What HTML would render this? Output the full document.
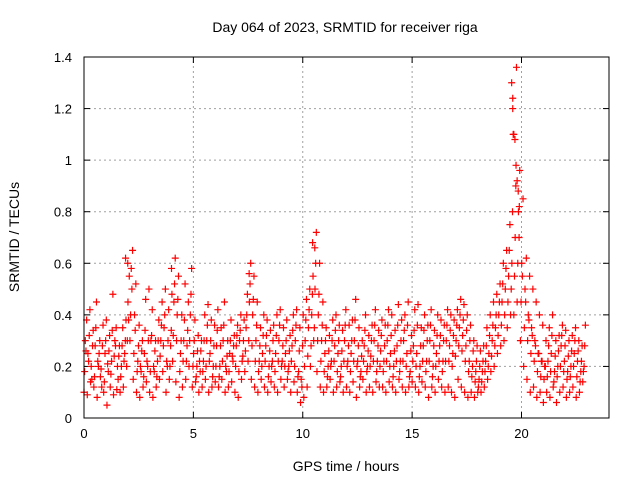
<!DOCTYPE html>
<html><head><meta charset="utf-8"><style>
body{margin:0;background:#fff}
svg{display:block;font-family:"Liberation Sans",sans-serif}
</style></head><body>
<svg id="chart" width="640" height="480">
<text x="345" y="32" font-size="14" text-anchor="middle">Day 064 of 2023, SRMTID for receiver riga</text>
<text x="19" y="237" font-size="14" text-anchor="middle" transform="rotate(-90 19 237)">SRMTID / TECUs</text>
<text x="346" y="471" font-size="14" text-anchor="middle">GPS time / hours</text>
<g id="grid"></g>
<g id="ticks"></g>
<g id="pts"></g>
<rect x="84" y="57" width="525" height="361" fill="none" stroke="#000" stroke-width="1"/>
</svg>
<script>
const xTicks=[0,5,10,15,20];
const yTicks=[0,0.2,0.4,0.6,0.8,1,1.2,1.4];
const yTickLabels=["0","0.2","0.4","0.6","0.8","1","1.2","1.4"];
const times=[0,0.15,0.3,0.45,0.6,0.75,0.9,1.05,1.2,1.35,1.5,1.65,1.8,1.95,2.1,2.25,2.4,2.55,2.7,2.85,3,3.15,3.3,3.45,3.6,3.75,3.9,4.05,4.2,4.35,4.5,4.65,4.8,4.95,5.1,5.25,5.4,5.55,5.7,5.85,6,6.15,6.3,6.45,6.6,6.75,6.9,7.05,7.2,7.35,7.5,7.65,7.8,7.95,8.1,8.25,8.4,8.55,8.7,8.85,9,9.15,9.3,9.45,9.6,9.75,9.9,10.05,10.2,10.35,10.5,10.65,10.8,10.95,11.1,11.25,11.4,11.55,11.7,11.85,12,12.15,12.3,12.45,12.6,12.75,12.9,13.05,13.2,13.35,13.5,13.65,13.8,13.95,14.1,14.25,14.4,14.55,14.7,14.85,15,15.15,15.3,15.45,15.6,15.75,15.9,16.05,16.2,16.35,16.5,16.65,16.8,16.95,17.1,17.25,17.4,17.55,17.7,17.85,18,18.15,18.3,18.45,18.6,18.75,18.9,19.05,19.2,19.35,19.5,19.65,19.8,19.95,20.1,20.25,20.4,20.55,20.7,20.85,21,21.15,21.3,21.45,21.6,21.75,21.9,22.05,22.2,22.35,22.5,22.65,22.8];
const valuesMid=[0.30,0.22,0.15,0.28,0.20,0.12,0.25,0.18,0.22,0.30,0.15,
0.20,0.25,0.45,0.58,0.40,0.22,0.18,0.25,0.20,0.30,
0.18,0.22,0.30,0.35,0.20,0.28,0.45,0.40,0.25,0.30,
0.28,0.40,0.25,0.20,0.18,0.22,0.30,0.25,0.20,0.28,
0.20,0.30,0.18,0.25,0.22,0.28,0.30,0.24,0.35,0.45,
0.40,0.30,0.22,0.25,0.28,0.20,0.22,0.25,0.30,0.22,
0.25,0.20,0.28,0.30,0.18,0.12,0.30,0.35,0.40,0.50,
0.40,0.30,0.25,0.20,0.22,0.28,0.25,0.20,0.30,0.22,
0.25,0.30,0.22,0.18,0.28,0.20,0.24,0.30,0.22,0.26,
0.22,0.30,0.25,0.20,0.28,0.22,0.30,0.25,0.18,0.28,
0.25,0.20,0.28,0.22,0.30,0.20,0.25,0.28,0.22,0.30,
0.28,0.25,0.30,0.35,0.32,0.28,0.22,0.20,0.18,0.15,
0.18,0.22,0.25,0.30,0.35,0.40,0.45,0.50,0.55,0.60,
0.70,0.80,0.60,0.50,0.40,0.35,0.30,0.25,0.22,0.20,
0.22,0.25,0.18,0.20,0.28,0.22,0.18,0.20,0.25,0.22,0.18,0.20];
const valuesHigh=[0.38,0.42,0.34,0.45,0.30,0.36,0.38,0.32,0.48,0.35,0.28,
0.35,0.38,0.55,0.65,0.52,0.36,0.30,0.46,0.50,0.42,
0.30,0.38,0.45,0.50,0.42,0.48,0.62,0.55,0.40,0.52,
0.45,0.58,0.38,0.32,0.30,0.40,0.44,0.38,0.36,0.42,
0.35,0.45,0.30,0.38,0.32,0.36,0.40,0.38,0.48,0.60,
0.55,0.45,0.35,0.40,0.38,0.34,0.36,0.40,0.42,0.35,
0.38,0.32,0.40,0.42,0.35,0.40,0.46,0.50,0.55,0.72,
0.60,0.45,0.35,0.32,0.38,0.40,0.36,0.34,0.42,0.36,
0.38,0.46,0.35,0.30,0.40,0.32,0.36,0.42,0.34,0.38,
0.36,0.42,0.40,0.34,0.44,0.38,0.40,0.45,0.32,0.42,
0.44,0.35,0.40,0.36,0.42,0.34,0.40,0.38,0.36,0.42,
0.40,0.38,0.42,0.46,0.44,0.40,0.36,0.30,0.28,0.26,
0.28,0.35,0.40,0.45,0.48,0.52,0.60,0.65,0.75,1.10,
1.36,0.96,0.85,0.62,0.55,0.50,0.45,0.40,0.36,0.30,
0.35,0.40,0.30,0.32,0.36,0.34,0.30,0.32,0.35,0.30,0.28,0.36];
const valuesLow=[0.10,0.09,0.14,0.12,0.08,0.16,0.10,0.05,0.12,0.09,0.11,
0.10,0.12,0.20,0.30,0.15,0.10,0.08,0.12,0.14,0.10,
0.08,0.12,0.15,0.18,0.10,0.15,0.22,0.14,0.08,0.12,
0.15,0.20,0.12,0.14,0.10,0.12,0.15,0.10,0.12,0.14,
0.12,0.15,0.10,0.12,0.14,0.10,0.08,0.15,0.18,0.22,
0.15,0.12,0.10,0.15,0.12,0.10,0.14,0.12,0.10,0.15,
0.12,0.15,0.10,0.14,0.10,0.06,0.08,0.12,0.20,0.30,
0.18,0.12,0.10,0.12,0.15,0.10,0.12,0.14,0.10,0.12,
0.10,0.14,0.08,0.12,0.15,0.10,0.12,0.10,0.14,0.12,
0.12,0.10,0.14,0.12,0.10,0.15,0.12,0.10,0.12,0.14,
0.12,0.10,0.14,0.12,0.08,0.12,0.10,0.15,0.12,0.10,
0.12,0.10,0.08,0.15,0.12,0.10,0.08,0.10,0.08,0.10,
0.10,0.12,0.15,0.18,0.20,0.25,0.28,0.30,0.35,0.40,
0.40,0.45,0.30,0.20,0.15,0.10,0.12,0.08,0.10,0.06,
0.10,0.08,0.12,0.06,0.10,0.12,0.08,0.10,0.12,0.08,0.10,0.14];
const valuesA=[0.18,0.25,0.20,0.16,0.22,0.19,0.14,0.21,0.17,0.24,0.20,
0.16,0.22,0.30,0.40,0.25,0.18,0.20,0.16,0.22,0.18,
0.20,0.16,0.24,0.28,0.22,0.20,0.32,0.30,0.18,0.22,
0.22,0.30,0.20,0.16,0.22,0.18,0.20,0.22,0.16,0.20,
0.16,0.22,0.20,0.18,0.24,0.20,0.18,0.22,0.26,0.30,
0.28,0.22,0.18,0.20,0.22,0.16,0.20,0.18,0.22,0.20,
0.20,0.18,0.22,0.20,0.16,0.15,0.20,0.24,0.28,0.35,
0.30,0.22,0.18,0.16,0.20,0.22,0.18,0.16,0.22,0.20,
0.18,0.22,0.20,0.16,0.22,0.18,0.20,0.22,0.18,0.20,
0.18,0.22,0.20,0.16,0.22,0.18,0.22,0.20,0.16,0.22,
0.20,0.16,0.22,0.18,0.22,0.16,0.20,0.22,0.18,0.22,
0.22,0.20,0.24,0.28,0.26,0.22,0.18,0.16,0.14,0.12,
0.14,0.18,0.20,0.24,0.28,0.32,0.36,0.40,0.45,0.50,
0.55,0.60,0.45,0.35,0.30,0.25,0.22,0.18,0.16,0.15,
0.16,0.18,0.14,0.16,0.20,0.18,0.15,0.16,0.20,0.16,0.14,0.18];
const valuesB=[0.26,0.32,0.28,0.35,0.25,0.28,0.30,0.26,0.34,0.28,0.24,
0.28,0.30,0.38,0.50,0.34,0.28,0.26,0.34,0.30,0.32,
0.26,0.30,0.36,0.40,0.30,0.34,0.52,0.46,0.30,0.38,
0.34,0.48,0.30,0.26,0.26,0.30,0.36,0.30,0.28,0.34,
0.28,0.36,0.24,0.30,0.28,0.32,0.34,0.30,0.40,0.52,
0.46,0.36,0.28,0.32,0.32,0.26,0.30,0.32,0.36,0.28,
0.30,0.26,0.34,0.36,0.26,0.28,0.38,0.42,0.48,0.60,
0.48,0.36,0.30,0.26,0.30,0.34,0.30,0.26,0.36,0.28,
0.30,0.38,0.28,0.24,0.34,0.26,0.30,0.36,0.28,0.32,
0.28,0.36,0.32,0.26,0.36,0.30,0.34,0.36,0.26,0.34,
0.36,0.28,0.34,0.30,0.36,0.28,0.32,0.32,0.30,0.36,
0.34,0.32,0.36,0.40,0.38,0.34,0.30,0.26,0.22,0.20,
0.22,0.28,0.32,0.36,0.40,0.45,0.52,0.58,0.65,0.80,
0.90,0.70,0.55,0.45,0.38,0.32,0.28,0.25,0.22,0.20,
0.28,0.32,0.24,0.26,0.32,0.28,0.24,0.26,0.30,0.26,0.22,0.28];
const extraTimes=[19.55,19.6,19.6,19.65,19.7,19.75,19.8,19.85,19.9,1.9,2.0,10.45,10.55,4.0,7.55];
const extraValues=[1.30,1.24,1.20,1.10,1.08,0.98,0.92,0.88,0.82,0.62,0.60,0.68,0.66,0.58,0.56];

const NS="http://www.w3.org/2000/svg";
const X0=84,X1=609,Y0=418,Y1=57,XMAX=24,YMAX=1.4;
function sx(t){return X0+t/XMAX*(X1-X0);}
function sy(v){return Y0-v/YMAX*(Y0-Y1);}
function mk(tag,attrs,parent){const e=document.createElementNS(NS,tag);for(const k in attrs)e.setAttribute(k,attrs[k]);parent.appendChild(e);return e;}
const grid=document.getElementById('grid'),ticks=document.getElementById('ticks'),pts=document.getElementById('pts');
xTicks.forEach(t=>{
  const x=sx(t);
  if(t>0){const g=mk('line',{x1:x,x2:x,y1:Y0,y2:Y1,stroke:'#a0a0a0','stroke-dasharray':'2,3'},grid);
  
  }
  mk('line',{x1:x,x2:x,y1:Y0,y2:Y0-6,stroke:'#000'},ticks);
  mk('line',{x1:x,x2:x,y1:Y1,y2:Y1+6,stroke:'#000'},ticks);
  const l=mk('text',{x:x,y:Y0+20,'font-size':13,'text-anchor':'middle'},ticks);l.textContent=t;
  
  
});
yTicks.forEach((v,i)=>{
  const y=sy(v);
  if(v>0&&v<YMAX){const g=mk('line',{x1:X0,x2:X1,y1:y,y2:y,stroke:'#a0a0a0','stroke-dasharray':'2,3'},grid);
  
  }
  mk('line',{x1:X0,x2:X0+6,y1:y,y2:y,stroke:'#000'},ticks);
  mk('line',{x1:X1,x2:X1-6,y1:y,y2:y,stroke:'#000'},ticks);
  const l=mk('text',{x:72,y:y+5,'font-size':13,'text-anchor':'end'},ticks);l.textContent=yTickLabels[i];
  
  
});
function plus(t,v,color){
  const x=sx(t),y=sy(v);
  const p=mk('path',{d:`M${x-3.5},${y}h7M${x},${y-3.5}v7`,stroke:color,'stroke-width':1.2,fill:'none'},pts);
  
  
}
times.forEach((t,i)=>{
  plus(t,valuesLow[i],'#ff0000');
  plus(t+0.03,valuesA[i],'#ff0000');
  plus(t+0.06,valuesMid[i],'#ff0000');
  plus(t+0.09,valuesB[i],'#ff0000');
  plus(t+0.12,valuesHigh[i],'#ff0000');
});
extraTimes.forEach((t,i)=>plus(t,extraValues[i],'#ff0000'));
</script>
</body></html>
